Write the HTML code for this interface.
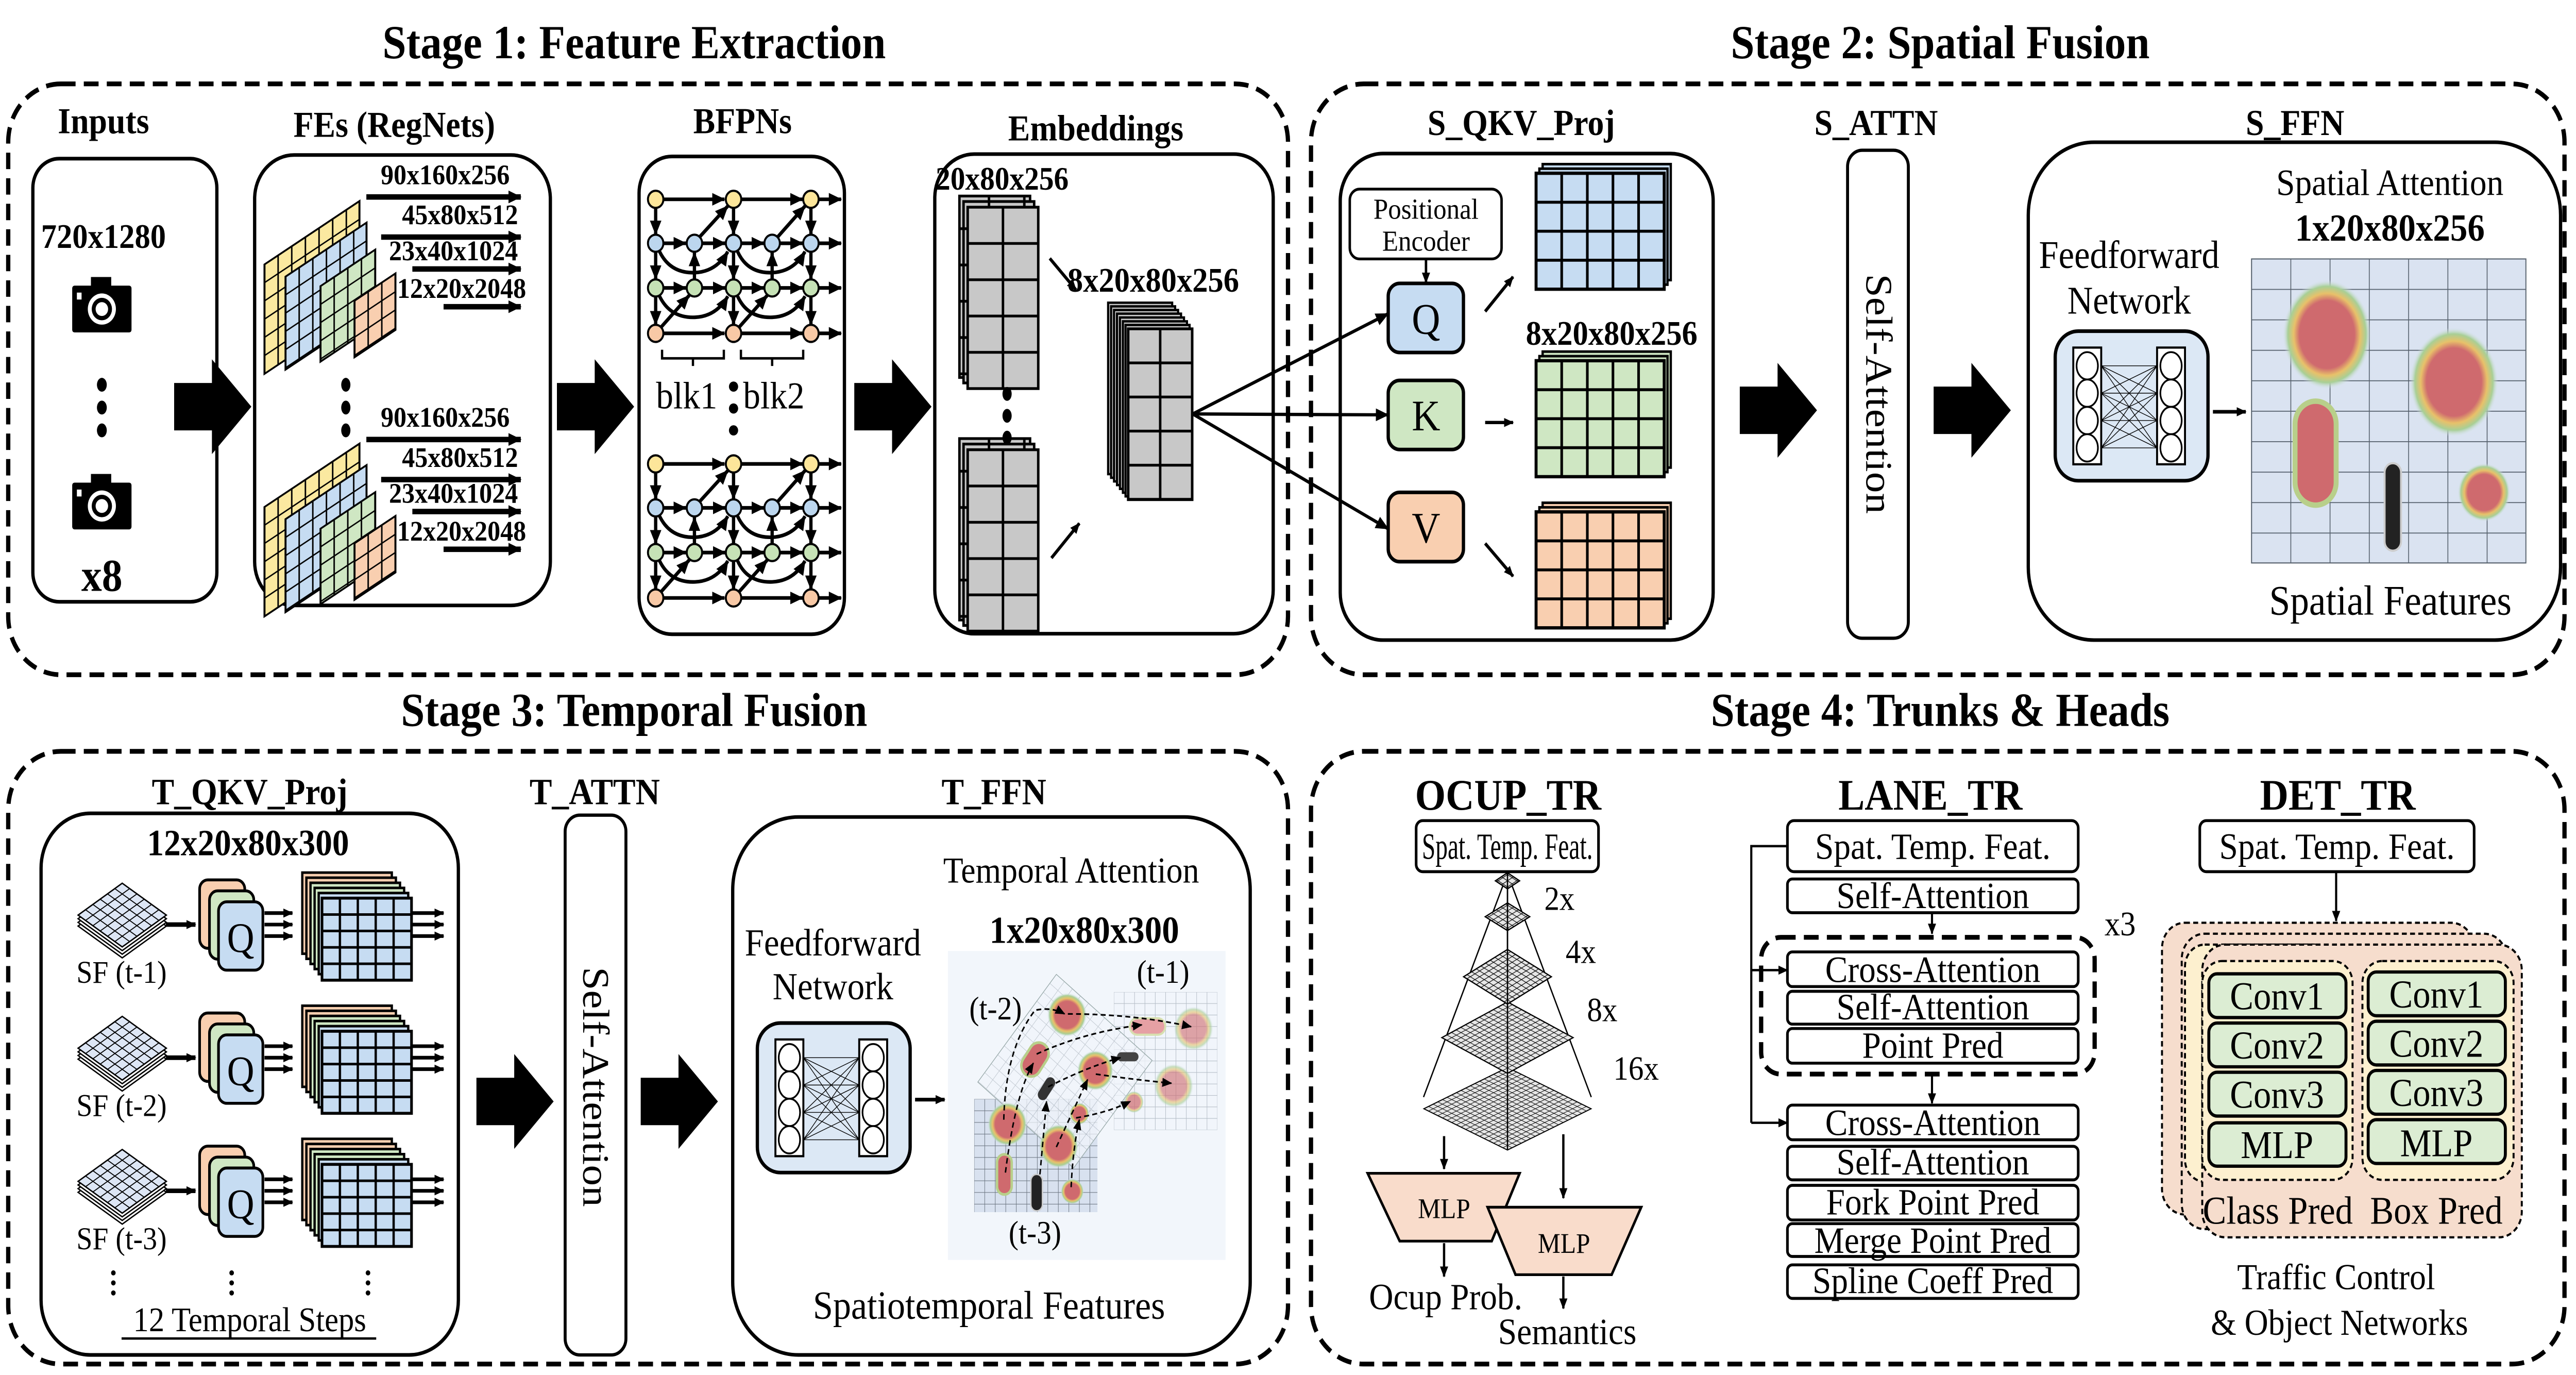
<!DOCTYPE html>
<html><head><meta charset="utf-8"><style>
html,body{margin:0;padding:0;background:#fff;overflow:hidden;width:100%;height:100%}
svg{display:block;position:fixed;left:0;top:0;width:100vw;height:100vh}
</style></head><body>
<svg xmlns="http://www.w3.org/2000/svg" viewBox="0 0 1568 754" preserveAspectRatio="none" font-family="'Liberation Serif', serif">
<defs>
<marker id="ah" markerUnits="userSpaceOnUse" markerWidth="8" markerHeight="8" refX="7.5" refY="4" orient="auto"><path d="M0,0.5 L8,4 L0,7.5z" fill="#000"/></marker>
<marker id="as" markerUnits="userSpaceOnUse" markerWidth="6" markerHeight="6" refX="5.5" refY="3" orient="auto"><path d="M0,0.5 L6,3 L0,5.5z" fill="#000"/></marker>
<pattern id="pY" width="8.3" height="10" patternUnits="userSpaceOnUse"><rect width="8.3" height="10" fill="#fbe9a0" stroke="#000" stroke-width="0.9"/></pattern>
<pattern id="pB" width="8.3" height="10" patternUnits="userSpaceOnUse"><rect width="8.3" height="10" fill="#c6dcf2" stroke="#000" stroke-width="0.9"/></pattern>
<pattern id="pG" width="8.3" height="10" patternUnits="userSpaceOnUse"><rect width="8.3" height="10" fill="#cfe7c3" stroke="#000" stroke-width="0.9"/></pattern>
<pattern id="pO" width="8.3" height="10" patternUnits="userSpaceOnUse"><rect width="8.3" height="10" fill="#f9cfb0" stroke="#000" stroke-width="0.9"/></pattern>
<pattern id="sB" width="15.6" height="15.9" patternUnits="userSpaceOnUse"><rect width="15.6" height="15.9" fill="#c6dcf2" stroke="#000" stroke-width="1.6"/></pattern>
<pattern id="sG" width="15.6" height="15.9" patternUnits="userSpaceOnUse"><rect width="15.6" height="15.9" fill="#cfe7c3" stroke="#000" stroke-width="1.6"/></pattern>
<pattern id="sO" width="15.6" height="15.9" patternUnits="userSpaceOnUse"><rect width="15.6" height="15.9" fill="#f9cfb0" stroke="#000" stroke-width="1.6"/></pattern>
<pattern id="eG" width="21.5" height="19.9" patternUnits="userSpaceOnUse"><rect width="21.5" height="19.9" fill="#c8c8c8" stroke="#000" stroke-width="1.5"/></pattern>
<pattern id="eG2" width="19.5" height="18.7" patternUnits="userSpaceOnUse"><rect width="19.5" height="18.7" fill="#c8c8c8" stroke="#000" stroke-width="1.5"/></pattern>
<pattern id="tB" width="10.9" height="9" patternUnits="userSpaceOnUse"><rect width="10.9" height="9" fill="#c6dcf2" stroke="#000" stroke-width="1.4"/></pattern>
<pattern id="dT" width="6.3" height="6.3" patternUnits="userSpaceOnUse"><rect width="6.3" height="6.3" fill="#dde6f5" stroke="#000" stroke-width="0.7"/></pattern>
<pattern id="dO" width="4" height="4" patternUnits="userSpaceOnUse"><rect width="4" height="4" fill="#e6e6e6" stroke="#000" stroke-width="0.5"/></pattern>
<pattern id="mS" width="23.9" height="16.7" patternUnits="userSpaceOnUse"><rect width="23.9" height="16.7" fill="#dae3f1" stroke="#55606c" stroke-width="0.5"/></pattern>
<pattern id="m3" width="6.4" height="6.4" patternUnits="userSpaceOnUse"><rect width="6.4" height="6.4" fill="#d8e1ef" stroke="#6a7480" stroke-width="0.3"/></pattern>
<pattern id="m1" width="6.3" height="6.3" patternUnits="userSpaceOnUse"><rect width="6.3" height="6.3" fill="#f1f5fb" stroke="#b4bcc6" stroke-width="0.3"/></pattern>
<radialGradient id="heat"><stop offset="0" stop-color="#cf6a6e"/><stop offset="0.62" stop-color="#cf6a6e"/><stop offset="0.75" stop-color="#e8c16a"/><stop offset="0.88" stop-color="#a8cf96"/><stop offset="1" stop-color="#dae3f1" stop-opacity="0"/></radialGradient>
<symbol id="cam" viewBox="-20 -18 40 36" overflow="visible"><rect x="-19" y="-13" width="38" height="27" rx="1.5" fill="#000"/><rect x="-7" y="-18" width="13" height="6" fill="#000"/><circle cx="0" cy="0.5" r="9" fill="#fff"/><circle cx="0" cy="0.5" r="6.5" fill="#000"/><circle cx="0" cy="0.5" r="4" fill="#fff"/><rect x="-16" y="-9" width="3" height="4" fill="#fff"/></symbol>
<path id="barr" d="M0,13 L23,13 L23,0 L47,26 L23,52 L23,39 L0,39z" fill="#000"/>
<g id="nn">
<rect x="0" y="0" width="93" height="82" rx="14" fill="#dce8f5" stroke="#000" stroke-width="2"/>
<rect x="11" y="9" width="17" height="64" fill="#fff" stroke="#000" stroke-width="1.2"/>
<rect x="62" y="9" width="17" height="64" fill="#fff" stroke="#000" stroke-width="1.2"/>
<g stroke="#000" stroke-width="0.4">
<path d="M28,19 L62,19 M28,19 L62,34 M28,19 L62,49 M28,19 L62,64 M28,34 L62,19 M28,34 L62,34 M28,34 L62,49 M28,34 L62,64 M28,49 L62,19 M28,49 L62,34 M28,49 L62,49 M28,49 L62,64 M28,64 L62,19 M28,64 L62,34 M28,64 L62,49 M28,64 L62,64"/></g>
<g fill="#fff" stroke="#000" stroke-width="1"><ellipse cx="19.5" cy="19" rx="6.5" ry="7.5"/><ellipse cx="19.5" cy="34" rx="6.5" ry="7.5"/><ellipse cx="19.5" cy="49" rx="6.5" ry="7.5"/><ellipse cx="19.5" cy="64" rx="6.5" ry="7.5"/><ellipse cx="70.5" cy="19" rx="6.5" ry="7.5"/><ellipse cx="70.5" cy="34" rx="6.5" ry="7.5"/><ellipse cx="70.5" cy="49" rx="6.5" ry="7.5"/><ellipse cx="70.5" cy="64" rx="6.5" ry="7.5"/></g>
</g>
<g id="fe">
<g transform="translate(161,145) skewY(-31)"><rect width="57.8" height="60" fill="url(#pY)" stroke="#000" stroke-width="1.2"/></g>
<g transform="translate(173.8,151.7) skewY(-31)"><rect width="49.3" height="51" fill="url(#pB)" stroke="#000" stroke-width="1.2"/></g>
<g transform="translate(195.1,156.9) skewY(-31)"><rect width="33.3" height="41.4" fill="url(#pG)" stroke="#000" stroke-width="1.2"/></g>
<g transform="translate(215.8,164.9) skewY(-31)"><rect width="24.9" height="31" fill="url(#pO)" stroke="#000" stroke-width="1.2"/></g>
<g stroke="#000" stroke-width="3" marker-end="url(#ah)"><line x1="223" y1="108" x2="317" y2="108"/><line x1="232" y1="130" x2="317" y2="130"/><line x1="251" y1="147.5" x2="317" y2="147.5"/><line x1="270" y1="168.2" x2="317" y2="168.2"/></g>
<g font-weight="bold" font-size="15.7" text-anchor="middle"><text x="271" y="101">90x160x256</text><text x="280" y="123">45x80x512</text><text x="276" y="142.7">23x40x1024</text><text x="281" y="163.4">12x20x2048</text></g>
</g>
<g id="bf">
<g stroke="#000" stroke-width="2" fill="none" marker-end="url(#ah)">
<line x1="404" y1="109.3" x2="441" y2="109.3"/><line x1="451" y1="109.3" x2="488.5" y2="109.3"/><line x1="498" y1="109.3" x2="512" y2="109.3"/>
<line x1="404" y1="133.4" x2="417.5" y2="133.4"/><line x1="427.5" y1="133.4" x2="441.5" y2="133.4"/><line x1="451" y1="133.4" x2="465" y2="133.4"/><line x1="475" y1="133.4" x2="488.5" y2="133.4"/><line x1="498" y1="133.4" x2="512" y2="133.4"/>
<line x1="404" y1="157.9" x2="417.5" y2="157.9"/><line x1="427.5" y1="157.9" x2="441.5" y2="157.9"/><line x1="451" y1="157.9" x2="465" y2="157.9"/><line x1="475" y1="157.9" x2="488.5" y2="157.9"/><line x1="498" y1="157.9" x2="512" y2="157.9"/>
<line x1="404" y1="182.8" x2="441" y2="182.8"/><line x1="451" y1="182.8" x2="488.5" y2="182.8"/><line x1="498" y1="182.8" x2="512" y2="182.8"/>
<line x1="399.1" y1="114" x2="399.1" y2="128.5"/><line x1="399.1" y1="138" x2="399.1" y2="153"/><line x1="399.1" y1="162.6" x2="399.1" y2="178"/>
<line x1="446.5" y1="114" x2="446.5" y2="128.5"/><line x1="446.5" y1="138" x2="446.5" y2="153"/><line x1="446.5" y1="162.6" x2="446.5" y2="178"/>
<line x1="493.6" y1="114" x2="493.6" y2="128.5"/><line x1="493.6" y1="138" x2="493.6" y2="153"/><line x1="493.6" y1="162.6" x2="493.6" y2="178"/>
<line x1="422.7" y1="153" x2="422.7" y2="138.5"/><line x1="470" y1="153" x2="470" y2="138.5"/>
<line x1="426" y1="129.8" x2="443" y2="113"/><line x1="473.5" y1="129.8" x2="490" y2="113"/>
<line x1="402.5" y1="179.3" x2="419.5" y2="162"/><line x1="450" y1="179.3" x2="467" y2="162"/>
<path d="M401.5,138 Q408,150 423,149.5 Q436,149 443,138"/><path d="M449,138 Q455,150 470,149.5 Q483,149 490,138"/>
<path d="M401.5,162.5 Q408,174.5 423,174 Q436,173.5 443,162.5"/><path d="M449,162.5 Q455,174.5 470,174 Q483,173.5 490,162.5"/>
</g>
<g stroke="#000" stroke-width="1.2">
<circle cx="399.1" cy="109.3" r="4.7" fill="#fde69a"/><circle cx="446.5" cy="109.3" r="4.7" fill="#fde69a"/><circle cx="493.6" cy="109.3" r="4.7" fill="#fde69a"/>
<circle cx="399.1" cy="133.4" r="4.7" fill="#bcd6ee"/><circle cx="422.7" cy="133.4" r="4.7" fill="#bcd6ee"/><circle cx="446.5" cy="133.4" r="4.7" fill="#bcd6ee"/><circle cx="470" cy="133.4" r="4.7" fill="#bcd6ee"/><circle cx="493.6" cy="133.4" r="4.7" fill="#bcd6ee"/>
<circle cx="399.1" cy="157.9" r="4.7" fill="#c6e2b6"/><circle cx="422.7" cy="157.9" r="4.7" fill="#c6e2b6"/><circle cx="446.5" cy="157.9" r="4.7" fill="#c6e2b6"/><circle cx="470" cy="157.9" r="4.7" fill="#c6e2b6"/><circle cx="493.6" cy="157.9" r="4.7" fill="#c6e2b6"/>
<circle cx="399.1" cy="182.8" r="4.7" fill="#f8c9a6"/><circle cx="446.5" cy="182.8" r="4.7" fill="#f8c9a6"/><circle cx="493.6" cy="182.8" r="4.7" fill="#f8c9a6"/>
</g></g>
<g id="emb">
<rect x="584" y="101.5" width="43" height="99.5" fill="url(#eG)" stroke="#000" stroke-width="1.5"/>
<rect x="586.5" y="104.5" width="43" height="99.5" fill="url(#eG)" stroke="#000" stroke-width="1.5"/>
<g transform="translate(589,107.6)"><rect width="43" height="99.5" fill="url(#eG)" stroke="#000" stroke-width="1.5"/></g>
</g>
<g id="trow">
<g transform="translate(74.4,507.8) scale(1,0.65) rotate(45)"><rect x="-19" y="-19" width="38" height="38" fill="#fff" stroke="#000" stroke-width="1"/></g>
<g transform="translate(74.4,505.8) scale(1,0.65) rotate(45)"><rect x="-19" y="-19" width="38" height="38" fill="#fff" stroke="#000" stroke-width="1"/></g>
<g transform="translate(74.4,503.8) scale(1,0.65) rotate(45)"><rect x="-19" y="-19" width="38" height="38" fill="#fff" stroke="#000" stroke-width="1"/></g>
<g transform="translate(74.4,501.8) scale(1,0.65) rotate(45)"><rect x="-19" y="-19" width="38" height="38" fill="url(#dT)" stroke="#000" stroke-width="1"/></g>
<line x1="101" y1="507" x2="119" y2="507" stroke="#000" stroke-width="2.5" marker-end="url(#as)"/>
<rect x="121.5" y="482.5" width="27.5" height="37.5" rx="5" fill="#f9cfb0" stroke="#000" stroke-width="1.6"/>
<rect x="127.5" y="488.5" width="27" height="37.5" rx="5" fill="#cfe7c3" stroke="#000" stroke-width="1.6"/>
<rect x="133" y="494.5" width="27" height="37.5" rx="5" fill="#c6dcf2" stroke="#000" stroke-width="1.6"/>
<text x="146.5" y="522" font-size="23" text-anchor="middle">Q</text>
<g stroke="#000" stroke-width="2" marker-end="url(#as)"><line x1="161" y1="500.7" x2="178" y2="500.7"/><line x1="161" y1="507" x2="178" y2="507"/><line x1="161" y1="513.3" x2="178" y2="513.3"/></g>
<rect x="184" y="478.5" width="54.5" height="44.5" fill="#f9cfb0" stroke="#000" stroke-width="1.4"/>
<rect x="186.5" y="481.3" width="54.5" height="44.5" fill="#f9cfb0" stroke="#000" stroke-width="1.4"/>
<rect x="189" y="484.1" width="54.5" height="44.5" fill="#cfe7c3" stroke="#000" stroke-width="1.4"/>
<rect x="191.5" y="486.9" width="54.5" height="44.5" fill="#cfe7c3" stroke="#000" stroke-width="1.4"/>
<rect x="194" y="489.7" width="54.5" height="44.5" fill="#c6dcf2" stroke="#000" stroke-width="1.4"/>
<g transform="translate(196,492.5)"><rect width="54.5" height="45" fill="url(#tB)" stroke="#000" stroke-width="1.6"/></g>
<g stroke="#000" stroke-width="2" marker-end="url(#as)"><line x1="250" y1="500.7" x2="270" y2="500.7"/><line x1="250" y1="507" x2="270" y2="507"/><line x1="250" y1="513.3" x2="270" y2="513.3"/></g>
</g>
</defs>

<g font-weight="bold" font-size="26" text-anchor="middle">
<text x="386" y="32">Stage 1: Feature Extraction</text>
<text x="1181" y="32">Stage 2: Spatial Fusion</text>
<text x="386" y="398">Stage 3: Temporal Fusion</text>
<text x="1181" y="398">Stage 4: Trunks &amp; Heads</text>
</g>

<g fill="none" stroke="#000" stroke-width="2.6" stroke-dasharray="9,5">
<rect x="5" y="46" width="779" height="324" rx="32"/>
<rect x="798" y="46" width="763" height="324" rx="32"/>
<rect x="5" y="412" width="779" height="336" rx="32"/>
<rect x="798" y="412" width="763" height="336" rx="32"/>
</g>

<g font-weight="bold" font-size="20" text-anchor="middle">
<text x="63" y="73">Inputs</text><text x="240" y="75">FEs (RegNets)</text><text x="452" y="73">BFPNs</text><text x="667" y="77">Embeddings</text>
</g>
<rect x="20" y="87" width="112" height="243" rx="16" fill="#fff" stroke="#000" stroke-width="2"/>
<text x="63" y="136" font-weight="bold" font-size="19" text-anchor="middle">720x1280</text>
<use href="#cam" x="43" y="151" width="38" height="36"/>
<use href="#cam" x="43" y="259" width="38" height="36"/>
<g fill="#000"><ellipse cx="62" cy="211" rx="3" ry="3.8"/><ellipse cx="62" cy="223.5" rx="3" ry="3.8"/><ellipse cx="62" cy="236" rx="3" ry="3.8"/></g>
<text x="62" y="324" font-weight="bold" font-size="25" text-anchor="middle">x8</text>
<use href="#barr" x="106" y="197"/>

<rect x="155" y="85" width="180" height="247" rx="24" fill="#fff" stroke="#000" stroke-width="2"/>
<use href="#fe"/>
<use href="#fe" y="133"/>
<g fill="#000"><ellipse cx="210.5" cy="211" rx="2.8" ry="3.8"/><ellipse cx="210.5" cy="223.5" rx="2.8" ry="3.8"/><ellipse cx="210.5" cy="236" rx="2.8" ry="3.8"/></g>
<use href="#barr" x="339" y="197"/>

<rect x="389" y="85.8" width="125" height="262" rx="20" fill="#fff" stroke="#000" stroke-width="2"/>
<use href="#bf"/>
<use href="#bf" y="145.1"/>
<g stroke="#000" stroke-width="1.4" fill="none"><path d="M403,191.8 V196.5 H440.6 V191.8 M421.8,196.5 V200.7"/><path d="M451,191.8 V196.5 H488.9 V191.8 M470,196.5 V200.7"/></g>
<g font-size="21" text-anchor="middle"><text x="418" y="224">blk1</text><text x="471" y="224">blk2</text></g>
<g fill="#000"><circle cx="446.5" cy="212" r="2.8"/><circle cx="446.5" cy="224" r="2.8"/><circle cx="446.5" cy="236" r="2.8"/></g>
<use href="#barr" x="520" y="197"/>

<rect x="569" y="84.5" width="206" height="263" rx="24" fill="#fff" stroke="#000" stroke-width="2"/>
<text x="610" y="104" font-weight="bold" font-size="18" text-anchor="middle">20x80x256</text>
<use href="#emb" y="6"/>
<use href="#emb" y="139"/>
<g fill="#000"><ellipse cx="613" cy="216" rx="2.8" ry="3.8"/><ellipse cx="613" cy="228" rx="2.8" ry="3.8"/><ellipse cx="613" cy="240" rx="2.8" ry="3.8"/></g>
<text x="702" y="160" font-weight="bold" font-size="19" text-anchor="middle">8x20x80x256</text>
<g stroke="#000" stroke-width="1.8" marker-end="url(#as)"><line x1="639" y1="141.7" x2="655" y2="159"/><line x1="640" y1="306" x2="657" y2="287"/></g>
<g fill="#c8c8c8" stroke="#000" stroke-width="1.3">
<rect x="674.5" y="166" width="39" height="94"/><rect x="676.3" y="168" width="39" height="94"/><rect x="678.1" y="170" width="39" height="94"/><rect x="679.9" y="172" width="39" height="94"/><rect x="681.7" y="174.1" width="39" height="94"/><rect x="683.5" y="176.2" width="39" height="94"/><rect x="685.1" y="178.2" width="39" height="94"/>
</g>
<g transform="translate(686.7,180.3)"><rect width="39" height="93.7" fill="url(#eG2)" stroke="#000" stroke-width="1.5"/></g>
<g stroke="#000" stroke-width="1.8"><line x1="726" y1="227" x2="845" y2="172" marker-end="url(#ah)"/><line x1="726" y1="227" x2="845" y2="227.5" marker-end="url(#ah)"/><line x1="726" y1="227" x2="845" y2="290" marker-end="url(#ah)"/></g>

<g font-weight="bold" font-size="20" text-anchor="middle">
<text x="926" y="74">S_QKV_Proj</text><text x="1142" y="74">S_ATTN</text><text x="1397" y="74">S_FFN</text>
</g>
<rect x="815.8" y="84.2" width="227" height="266.8" rx="26" fill="none" stroke="#000" stroke-width="2"/>
<rect x="821.6" y="103.7" width="92.4" height="38.3" rx="6" fill="#fff" stroke="#000" stroke-width="1.5"/>
<g font-size="16" text-anchor="middle"><text x="868" y="120">Positional</text><text x="868" y="137.5">Encoder</text></g>
<line x1="868" y1="142" x2="868" y2="155" stroke="#000" stroke-width="1.5" marker-end="url(#as)"/>
<rect x="845" y="155.4" width="45.8" height="37.9" rx="7" fill="#c6dcf2" stroke="#000" stroke-width="2"/>
<rect x="845" y="208.6" width="45.8" height="37.9" rx="7" fill="#cfe7c3" stroke="#000" stroke-width="2"/>
<rect x="845" y="270" width="45.8" height="38" rx="7" fill="#f9cfb0" stroke="#000" stroke-width="2"/>
<g font-size="24" text-anchor="middle"><text x="868" y="183">Q</text><text x="868" y="236">K</text><text x="868" y="297.5">V</text></g>
<g stroke="#000" stroke-width="1.8" marker-end="url(#as)"><line x1="904" y1="170.8" x2="921" y2="151.8"/><line x1="904" y1="231.7" x2="921" y2="231.7"/><line x1="904" y1="298" x2="921" y2="316"/></g>
<g stroke="#000" stroke-width="1.4">
<rect x="939" y="90" width="78" height="63.6" fill="#c6dcf2"/><rect x="937" y="92.5" width="78" height="63.6" fill="#c6dcf2"/>
<rect x="939" y="192.8" width="78" height="63.6" fill="#cfe7c3"/><rect x="937" y="195.3" width="78" height="63.6" fill="#cfe7c3"/>
<rect x="939" y="275.7" width="78" height="63.6" fill="#f9cfb0"/><rect x="937" y="278.2" width="78" height="63.6" fill="#f9cfb0"/>
</g>
<g transform="translate(935,95)"><rect width="78" height="63.6" fill="url(#sB)" stroke="#000" stroke-width="1.8"/></g>
<g transform="translate(935,197.8)"><rect width="78" height="63.6" fill="url(#sG)" stroke="#000" stroke-width="1.8"/></g>
<g transform="translate(935,280.7)"><rect width="78" height="63.6" fill="url(#sO)" stroke="#000" stroke-width="1.8"/></g>
<text x="981" y="189" font-weight="bold" font-size="19" text-anchor="middle">8x20x80x256</text>
<use href="#barr" x="1059" y="199"/>
<rect x="1124.6" y="82.4" width="37" height="267.6" rx="9" fill="#fff" stroke="#000" stroke-width="1.8"/>
<text transform="translate(1136,216) rotate(90)" font-size="23" text-anchor="middle">Self-Attention</text>
<use href="#barr" x="1177" y="199"/>
<rect x="1234.6" y="78" width="324" height="273" rx="40" fill="#fff" stroke="#000" stroke-width="2"/>
<text x="1454.7" y="107" font-size="20.5" text-anchor="middle">Spatial Attention</text>
<text x="1454.7" y="132" font-weight="bold" font-size="21" text-anchor="middle">1x20x80x256</text>
<g font-size="21.5" text-anchor="middle"><text x="1296" y="147">Feedforward</text><text x="1296" y="172">Network</text></g>
<use href="#nn" x="1251" y="181.6"/>
<line x1="1347" y1="225.8" x2="1367" y2="225.8" stroke="#000" stroke-width="2" marker-end="url(#as)"/>
<g transform="translate(1370.5,142)"><rect width="167" height="166.7" fill="url(#mS)" stroke="#55606c" stroke-width="0.6"/></g>
<ellipse cx="1416.4" cy="183.4" rx="27" ry="30" fill="url(#heat)"/>
<ellipse cx="1493.7" cy="209.5" rx="27" ry="30" fill="url(#heat)"/>
<rect x="1397" y="220" width="25" height="57" rx="12.5" fill="#cf6a6e" stroke="#b8cf8a" stroke-width="3"/>
<ellipse cx="1512" cy="270" rx="16" ry="16" fill="url(#heat)"/>
<rect x="1451.5" y="254" width="10" height="48" rx="5" fill="#222" stroke="#ccc" stroke-width="1.2"/>
<text x="1455" y="337" font-size="23" text-anchor="middle">Spatial Features</text>

<g font-weight="bold" font-size="20.5" text-anchor="middle">
<text x="152" y="441">T_QKV_Proj</text><text x="362" y="441">T_ATTN</text><text x="605" y="441">T_FFN</text>
</g>
<rect x="25" y="446" width="254" height="297" rx="30" fill="#fff" stroke="#000" stroke-width="2"/>
<text x="151" y="469" font-weight="bold" font-size="20.5" text-anchor="middle">12x20x80x300</text>
<use href="#trow"/>
<use href="#trow" y="73"/>
<use href="#trow" y="146"/>
<g font-size="17.5" text-anchor="middle"><text x="74" y="539">SF (t-1)</text><text x="74" y="612">SF (t-2)</text><text x="74" y="685">SF (t-3)</text></g>
<g fill="#000"><circle cx="69" cy="698" r="1.4"/><circle cx="69" cy="703.5" r="1.4"/><circle cx="69" cy="709" r="1.4"/><circle cx="141" cy="698" r="1.4"/><circle cx="141" cy="703.5" r="1.4"/><circle cx="141" cy="709" r="1.4"/><circle cx="224" cy="698" r="1.4"/><circle cx="224" cy="703.5" r="1.4"/><circle cx="224" cy="709" r="1.4"/></g>
<text x="152" y="730" font-size="19" text-anchor="middle">12 Temporal Steps</text>
<line x1="74" y1="734" x2="229" y2="734" stroke="#000" stroke-width="1.3"/>
<use href="#barr" x="290" y="578"/>
<rect x="344" y="447" width="37" height="296" rx="9" fill="#fff" stroke="#000" stroke-width="1.8"/>
<text transform="translate(355,596) rotate(90)" font-size="23" text-anchor="middle">Self-Attention</text>
<use href="#barr" x="390" y="578"/>
<rect x="446" y="448" width="315" height="295" rx="40" fill="#fff" stroke="#000" stroke-width="2"/>
<text x="652" y="484" font-size="20" text-anchor="middle">Temporal Attention</text>
<text x="660" y="517" font-weight="bold" font-size="21" text-anchor="middle">1x20x80x300</text>
<g font-size="21" text-anchor="middle"><text x="507" y="524">Feedforward</text><text x="507" y="548">Network</text></g>
<use href="#nn" x="461" y="561"/>
<line x1="557" y1="603" x2="575" y2="603" stroke="#000" stroke-width="2" marker-end="url(#as)"/>
<rect x="577" y="521.5" width="169" height="169.4" fill="#f2f6fb"/>
<g transform="translate(678,544)"><rect width="63" height="75.6" fill="url(#m1)"/></g>
<g transform="translate(593,602.7)"><rect width="75" height="62" fill="url(#m3)"/></g>
<g transform="translate(643,534.3) rotate(39)"><rect width="75" height="76" fill="url(#m1)" fill-opacity="0.75" stroke="#9aa" stroke-width="0.4"/></g>
<circle cx="649.5" cy="556.5" r="12" fill="url(#heat)"/>
<rect x="624" y="571" width="12" height="20" rx="6" transform="rotate(35 630 581)" fill="#cf6a6e" stroke="#b8cf8a" stroke-width="1.5"/>
<circle cx="666.7" cy="587" r="11" fill="url(#heat)"/>
<circle cx="657" cy="610.7" r="6" fill="url(#heat)"/>
<circle cx="613.2" cy="616.4" r="12" fill="url(#heat)"/>
<rect x="606.9" y="633" width="8.9" height="22" rx="4.4" fill="#cf6a6e" stroke="#b8cf8a" stroke-width="1.5"/>
<circle cx="644.4" cy="628.5" r="12" fill="url(#heat)"/>
<circle cx="652.7" cy="653.3" r="7" fill="url(#heat)"/>
<rect x="627.5" y="644" width="7" height="20" rx="3.5" fill="#222" stroke="#ccc" stroke-width="0.8"/>
<rect x="687.7" y="558.4" width="21.6" height="9" rx="4.5" fill="#e6a0a4" stroke="#d8e0b0" stroke-width="1.2"/>
<circle cx="726.5" cy="564" r="12" fill="url(#heat)" fill-opacity="0.6"/>
<circle cx="714.4" cy="595.4" r="12" fill="url(#heat)" fill-opacity="0.6"/>
<circle cx="690.2" cy="604.3" r="6" fill="url(#heat)" fill-opacity="0.7"/>
<rect x="634" y="590" width="6" height="14" rx="3" transform="rotate(35 637 597)" fill="#333"/>
<rect x="680" y="577" width="13" height="5" rx="2.5" fill="#444"/>
<g fill="none" stroke="#000" stroke-width="0.9" stroke-dasharray="3,2" marker-end="url(#as)">
<path d="M611,614 Q612,575 630,554 Q640,552 648,556"/>
<path d="M612,643 Q618,600 629,583"/>
<path d="M633,644 L637,604"/>
<path d="M643,629 L662,592"/>
<path d="M652,651 Q653,630 657,614"/>
<path d="M655,613 Q675,610 688,604"/>
<path d="M638,596 Q662,585 682,580"/>
<path d="M667,589 Q690,592 713,594"/>
<path d="M631,578 Q660,566 695,562"/>
<path d="M650,556 Q690,556 725,563"/>
</g>
<g font-size="18" text-anchor="middle"><text x="708" y="539">(t-1)</text><text x="606" y="559">(t-2)</text><text x="630" y="682">(t-3)</text></g>
<text x="602" y="723" font-size="22" text-anchor="middle">Spatiotemporal Features</text>

<g font-weight="bold" font-size="24" text-anchor="middle">
<text x="918" y="444">OCUP_TR</text><text x="1175" y="444">LANE_TR</text><text x="1423" y="444">DET_TR</text>
</g>
<g fill="#fff" stroke="#000" stroke-width="1.6">
<rect x="862" y="450" width="111" height="28" rx="4"/>
<rect x="1088" y="450" width="177" height="28" rx="4"/>
<rect x="1339" y="450" width="167" height="28" rx="4"/>
</g>
<g font-size="20.5" text-anchor="middle"><text x="917.5" y="471" textLength="104" lengthAdjust="spacingAndGlyphs">Spat. Temp. Feat.</text><text x="1176.5" y="471">Spat. Temp. Feat.</text><text x="1422.5" y="471">Spat. Temp. Feat.</text></g>
<g stroke="#000" stroke-width="0.8" fill="none"><path d="M917.6,479 L866.5,601.6 M917.6,479 L968.6,601.6 M917.6,479 V630.8"/></g>
<g transform="translate(917.6,608) scale(1,0.445) rotate(45)"><rect x="-36" y="-36" width="72" height="72" fill="url(#dO)" stroke="#000" stroke-width="1"/></g>
<g transform="translate(917.6,569) scale(1,0.49) rotate(45)"><rect x="-28.3" y="-28.3" width="56.6" height="56.6" fill="url(#dO)" stroke="#000" stroke-width="1"/></g>
<g transform="translate(917.6,535.6) scale(1,0.56) rotate(45)"><rect x="-18.9" y="-18.9" width="37.8" height="37.8" fill="url(#dO)" stroke="#000" stroke-width="1"/></g>
<g transform="translate(917.6,502.7) scale(1,0.56) rotate(45)"><rect x="-9.6" y="-9.6" width="19.2" height="19.2" fill="url(#dO)" stroke="#000" stroke-width="1"/></g>
<g transform="translate(917.6,483) scale(1,0.6) rotate(45)"><rect x="-5.2" y="-5.2" width="10.4" height="10.4" fill="url(#dO)" stroke="#000" stroke-width="1"/></g>
<line x1="917.6" y1="479" x2="917.6" y2="630.8" stroke="#000" stroke-width="0.8"/>
<g font-size="18.5"><text x="940" y="499">2x</text><text x="953" y="528">4x</text><text x="966" y="560">8x</text><text x="982" y="592">16x</text></g>
<g stroke="#000" stroke-width="1.4" marker-end="url(#as)"><line x1="879" y1="623" x2="879" y2="641"/><line x1="951.6" y1="622" x2="951.6" y2="657"/><line x1="879" y1="681.7" x2="879" y2="700"/><line x1="951.6" y1="700" x2="951.6" y2="717.5"/></g>
<path d="M832.5,643.4 L925,643.4 L908,680.6 L852,680.6z" fill="#f9dccb" stroke="#000" stroke-width="1.5"/>
<path d="M905.5,662 L999,662 L981,699 L922.5,699z" fill="#f9dccb" stroke="#000" stroke-width="1.5"/>
<g font-size="15.5" text-anchor="middle"><text x="879" y="668">MLP</text><text x="952" y="687">MLP</text></g>
<g font-size="20.5" text-anchor="middle"><text x="880" y="718">Ocup Prob.</text><text x="954" y="737">Semantics</text></g>
<g fill="#fff" stroke="#000" stroke-width="1.6">
<rect x="1088" y="482" width="177" height="18.5" rx="3"/>
<rect x="1088" y="522" width="177" height="19" rx="3"/>
<rect x="1088" y="543.6" width="177" height="18" rx="3"/>
<rect x="1088" y="564" width="177" height="19" rx="3"/>
<rect x="1088" y="606" width="177" height="19" rx="3"/>
<rect x="1088" y="628.6" width="177" height="18.4" rx="3"/>
<rect x="1088" y="650" width="177" height="19" rx="3"/>
<rect x="1088" y="671" width="177" height="18" rx="3"/>
<rect x="1088" y="693.6" width="177" height="18.4" rx="3"/>
</g>
<g font-size="20.5" text-anchor="middle">
<text x="1176.5" y="498">Self-Attention</text>
<text x="1176.5" y="538.5">Cross-Attention</text>
<text x="1176.5" y="559">Self-Attention</text>
<text x="1176.5" y="580">Point Pred</text>
<text x="1176.5" y="622.5">Cross-Attention</text>
<text x="1176.5" y="644">Self-Attention</text>
<text x="1176.5" y="666">Fork Point Pred</text>
<text x="1176.5" y="687">Merge Point Pred</text>
<text x="1176.5" y="709">Spline Coeff Pred</text>
</g>
<rect x="1072" y="514" width="203" height="75" rx="12" fill="none" stroke="#000" stroke-width="2.6" stroke-dasharray="9,5"/>
<text x="1281" y="513" font-size="19">x3</text>
<g stroke="#000" stroke-width="1.3" fill="none"><path d="M1088,464 H1066 V615.7"/></g>
<g stroke="#000" stroke-width="1.3" marker-end="url(#as)"><line x1="1066" y1="532" x2="1088" y2="532"/><line x1="1066" y1="615.7" x2="1088" y2="615.7"/><line x1="1176" y1="500.5" x2="1176" y2="512"/><line x1="1176" y1="590" x2="1176" y2="605"/><line x1="1422" y1="478" x2="1422" y2="505"/></g>
<g stroke="#000" stroke-width="1.2" stroke-dasharray="3,2">
<rect x="1316" y="506" width="190" height="160" rx="14" fill="#f6ddcd"/>
<rect x="1328" y="512" width="198" height="162" rx="14" fill="#f6ddcd"/>
<rect x="1330" y="518" width="90" height="130" rx="12" fill="#fdf0cf"/>
<rect x="1340.5" y="518" width="194.5" height="160.5" rx="14" fill="#f6ddcd"/>
<rect x="1340.5" y="527" width="91.5" height="120" rx="12" fill="#fdf0cf"/>
<rect x="1438" y="527" width="92" height="120" rx="12" fill="#fdf0cf"/>
</g>
<g fill="#dcedd3" stroke="#000" stroke-width="1.8">
<rect x="1344.5" y="534" width="83.5" height="24" rx="5"/><rect x="1344.5" y="561" width="83.5" height="24" rx="5"/><rect x="1344.5" y="588" width="83.5" height="24" rx="5"/><rect x="1344.5" y="615.7" width="83.5" height="23.8" rx="5"/>
<rect x="1441.5" y="533" width="83.5" height="24" rx="5"/><rect x="1441.5" y="560" width="83.5" height="24" rx="5"/><rect x="1441.5" y="587" width="83.5" height="24" rx="5"/><rect x="1441.5" y="614" width="83.5" height="24" rx="5"/>
</g>
<g font-size="21.5" text-anchor="middle">
<text x="1386" y="553.5">Conv1</text><text x="1386" y="580.5">Conv2</text><text x="1386" y="607.5">Conv3</text><text x="1386" y="635">MLP</text>
<text x="1483" y="552.5">Conv1</text><text x="1483" y="579.5">Conv2</text><text x="1483" y="606.5">Conv3</text><text x="1483" y="634">MLP</text>
<text x="1386.5" y="671">Class Pred</text><text x="1483" y="671">Box Pred</text>
</g>
<g font-size="20" text-anchor="middle">
<text x="1422" y="707">Traffic Control</text><text x="1424" y="732">&amp; Object Networks</text>
</g>
</svg>
</body></html>
